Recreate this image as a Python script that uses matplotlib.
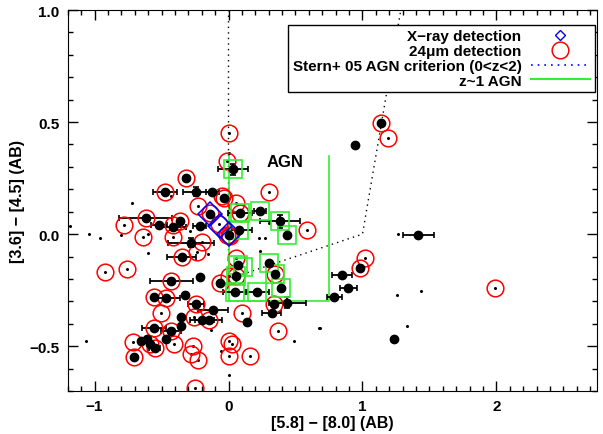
import numpy as np
import matplotlib
matplotlib.use("Agg")
import matplotlib.pyplot as plt
from matplotlib.lines import Line2D
from matplotlib.ticker import MultipleLocator

plt.rcParams['font.family'] = ['Liberation Sans', 'DejaVu Sans']
plt.rcParams['font.weight'] = 'bold'

# black points with errors (x, y, xerr, yerr)
bx = [-0.320, -0.476, -0.240, -0.120, -0.618, -0.365, -0.520, -0.414, -0.350, -0.426,
      -0.216, -0.558, -0.464, -0.327, -0.246, -0.352, -0.196, -0.149, -0.352, -0.553,
      -0.430, -0.464, -0.650, -0.608, -0.588, -0.550, -0.705, -0.117, 0.136, 0.050,
      0.210, 0.392, 0.347, 0.300, 0.069, 0.057, -0.062, 0.337, 0.440, 0.322,
      0.846, 0.895, 0.791, 0.980, 1.416, 0.945, 1.136, 1.238, 0.032, -0.037,
      -0.136, 0.089, 0.236, 0.387, 0.440, 0.082, 0.000, -0.278, -0.216]
by = [0.250, 0.190, 0.190, 0.190, 0.071, 0.060, 0.040, 0.033, -0.100, -0.210,
      -0.190, -0.280, -0.284, -0.270, -0.314, -0.370, -0.382, -0.384, -0.410, -0.421,
      -0.433, -0.470, -0.478, -0.466, -0.490, -0.510, -0.547, -0.340, -0.391, -0.259,
      -0.259, -0.239, -0.180, -0.128, -0.140, -0.188, -0.220, -0.314, -0.306, -0.354,
      -0.181, -0.242, -0.280, -0.150, -0.006, 0.396, 0.497, -0.467, 0.289, 0.162,
      0.088, 0.095, 0.104, 0.057, -0.003, 0.017, -0.005, -0.038, 0.036]
bxerr = [0, 0.09, 0.10, 0.05, 0.20, 0, 0.06, 0.10, 0.11, 0.16,
         0, 0, 0.10, 0, 0.06, 0, 0.09, 0.10, 0, 0.09,
         0.075, 0, 0, 0, 0, 0.04, 0, 0.11, 0, 0.09,
         0.09, 0, 0, 0, 0, 0, 0, 0, 0.14, 0.07,
         0.077, 0.062, 0.058, 0, 0.115, 0, 0, 0, 0.11, 0,
         0, 0.09, 0.045, 0.15, 0, 0.09, 0, 0.17, 0.05]
byerr = [0, 0, 0.02, 0, 0, 0, 0, 0, 0, 0,
         0, 0, 0, 0, 0, 0, 0, 0, 0, 0,
         0, 0, 0, 0, 0, 0, 0, 0, 0, 0,
         0, 0, 0, 0, 0, 0, 0, 0, 0.025, 0,
         0, 0, 0, 0, 0, 0, 0, 0, 0.025, 0,
         0, 0, 0, 0.03, 0, 0, 0, 0.02, 0]

# 24um detections
rx = [-0.320, -0.476, -0.618, -0.365, -0.414, -0.350, -0.426, -0.558, -0.464, -0.246,
      -0.149, -0.553, -0.430, -0.588, -0.550, -0.705, 0.057, -0.062, 0.337, 0.347,
      0.980, 1.136, -0.013, -0.045, -0.035, -0.136, 0.089, -0.010, 0.000, 0.012,
      -0.780, -0.640, -0.414, -0.920, -0.760, -0.506, -0.260, -0.407, -0.712, -0.266,
      -0.278, -0.228, 0.100, 0.002, 0.027, 0.002, 0.164, -0.253, 0.370, 0.057,
      0.000, 1.190, 0.588, 1.017, 1.987, 0.305, 0.057, -0.228, -0.072, -0.200,
      -0.233, 0.007]
ry = [0.250, 0.190, 0.071, 0.060, 0.040, -0.100, -0.210, -0.280, -0.284, -0.314,
      -0.384, -0.421, -0.433, -0.490, -0.510, -0.547, -0.188, -0.220, -0.314, -0.180,
      -0.150, 0.497, 0.326, 0.172, 0.160, 0.095, 0.095, -0.003, -0.005, -0.010,
      0.040, -0.012, -0.012, -0.170, -0.155, -0.353, -0.370, -0.490, -0.480, -0.500,
      -0.533, -0.563, -0.351, -0.478, -0.490, -0.545, -0.545, -0.687, -0.434, -0.105,
      -0.185, 0.430, 0.018, -0.108, -0.239, 0.190, 0.140, 0.125, 0.043, -0.035,
      -0.080, 0.450]

# faint sources (no error measurement)
sx = [-0.72, -1.04, -0.96, -0.80, -1.18, -0.60, -0.43, -1.066, 0.007, -0.134,
      -0.057, 0.677, 0.486, 1.263, 1.26, 1.434, 1.33, 0.68, 0.23, 0.27,
      0.238, 0.0, -0.29, -0.18, -0.60, -0.15, 0.30]
sy = [0.14, 0.0, -0.016, -0.006, 0.034, -0.086, 0.17, -0.475, -0.63, -0.43,
      -0.52, -0.42, -0.479, 0.0, -0.27, -0.256, -0.41, -0.42, -0.016, -0.016,
      -0.076, 0.36, 0.015, 0.035, 0.0, -0.09, 0.05]

# z~1 AGN candidates
gx = [0.032, 0.089, 0.236, 0.387, 0.440, 0.082, 0.069, 0.106, 0.057, 0.300,
      0.347, 0.392, 0.050, 0.210]
gy = [0.289, 0.095, 0.104, 0.057, -0.003, 0.017, -0.136, -0.146, -0.188, -0.128,
      -0.180, -0.239, -0.259, -0.259]

# X-ray detections
xx = [-0.136, -0.067, 0.000]
xy = [0.088, 0.036, 0.000]

# Stern+05 wedge and z~1 AGN box
stern_x = [0.0, 0.0, 1.0, 1.286]
stern_y = [1.0, -0.2, 0.0, 1.0]
box_x = [0.0, 0.0, 0.75, 0.75]
box_y = [0.35, -0.30, -0.30, 0.35]

green = '#33ee33'

fig = plt.figure(figsize=(6.03, 4.35), dpi=100)
ax = fig.add_axes([0.1123, 0.0989, 0.8777, 0.8758])

ax.plot(stern_x, stern_y, color='black', ls=(0, (1, 3)), lw=1.0)
ax.plot(box_x, box_y, color=green, lw=1.2)

all_x = sx + rx
all_y = sy + ry
ax.plot(all_x, all_y, ls='none', marker='o', ms=1.2, color='black')

ax.errorbar(bx, by, xerr=bxerr, yerr=byerr, fmt='o', ms=6, color='black',
            ecolor='black', elinewidth=1.3, capsize=2.2, capthick=1.2)
ax.plot(rx, ry, ls='none', marker='o', ms=12, mfc='none', mec='#ff0000', mew=1.1)
ax.plot(gx, gy, ls='none', marker='s', ms=13, mfc='none', mec=green, mew=1.2)
ax.plot(xx, xy, ls='none', marker='D', ms=12, mfc='none', mec='#0000ff', mew=1.1)

ax.text(0.424, 0.324, 'AGN', fontsize=12, fontweight='bold', ha='center', va='center')

ax.set_xlim(-1.2, 2.75)
ax.set_ylim(-0.7, 1.0)
ax.xaxis.set_major_locator(MultipleLocator(1))
ax.xaxis.set_minor_locator(MultipleLocator(0.1))
ax.yaxis.set_major_locator(MultipleLocator(0.5))
ax.yaxis.set_minor_locator(MultipleLocator(0.1))
ax.tick_params(which='both', direction='in', top=True, right=True, width=1)
ax.tick_params(which='major', length=7, labelsize=11, pad=6)
ax.tick_params(which='minor', length=3.5)
ax.set_xticks([-1, 0, 1, 2])
ax.set_xticklabels(['\u22121', '0', '1', '2'])
ax.set_yticks([-0.5, 0.0, 0.5, 1.0])
ax.set_yticklabels(['\u22120.5', '0.0', '0.5', '1.0'])
for lab in ax.get_xticklabels() + ax.get_yticklabels():
    lab.set_fontweight('bold')
ax.set_xlabel('[5.8] \u2212 [8.0] (AB)', fontsize=11.5, fontweight='bold', labelpad=1)
ax.set_ylabel('[3.6] \u2212 [4.5] (AB)', fontsize=11.5, fontweight='bold', labelpad=3)

handles = [
    Line2D([], [], ls='none', marker='D', ms=5, mfc='none', mec='#0000ff', mew=1),
    Line2D([], [], ls='none', marker='o', ms=12, mfc='none', mec='#ff0000', mew=1.1),
    Line2D([], [], ls=(0, (1, 3)), color='#0000ff', lw=1.2),
    Line2D([], [], ls='-', color=green, lw=1.5),
]
labels = ['X\u2212ray detection', '24\u03bcm detection',
          'Stern+ 05 AGN criterion (0<z<2)', 'z~1 AGN']
leg = ax.legend(handles, labels, loc='upper right', bbox_to_anchor=(0.996, 0.961),
                borderaxespad=0, markerfirst=False, fancybox=False, framealpha=1,
                edgecolor='black', prop={'weight': 'bold', 'size': 11},
                handlelength=3.9, labelspacing=0.05, borderpad=0.3, handletextpad=0.6)
leg.get_frame().set_linewidth(1.0)

fig.savefig('out.png', dpi=100)
